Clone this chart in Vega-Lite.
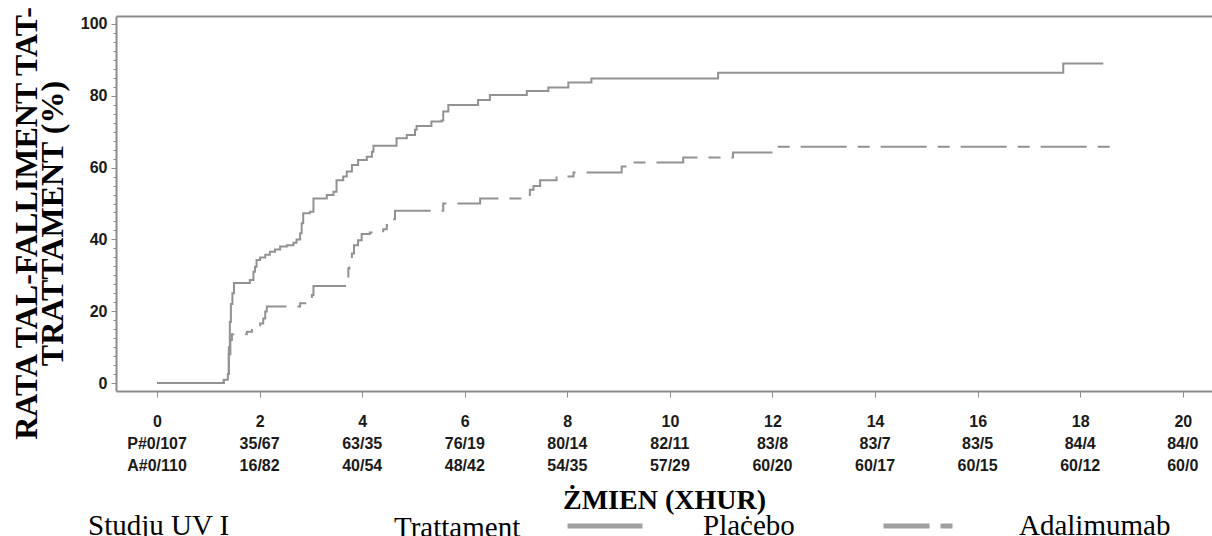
{
  "$schema": "https://vega.github.io/schema/vega-lite/v6.json",
  "width": 1096,
  "height": 375,
  "autosize": {"type": "none"},
  "padding": {"left": 116, "top": 16, "right": 0, "bottom": 145},
  "background": "white",
  "config": {"view": {"stroke": null}, "font": "Liberation Sans"},
  "title": {
    "text": "Studju UV I",
    "orient": "bottom",
    "anchor": "start",
    "frame": "group",
    "font": "Liberation Serif",
    "fontSize": 29,
    "fontWeight": "normal",
    "color": "#000000",
    "baseline": "alphabetic",
    "dx": -28,
    "dy": -7,
    "offset": -1
  },
  "datasets": {
    "curves": [
      {"t": 0, "v": 0, "grp": "Plaċebo"},
      {"t": 1.30, "v": 0.9, "grp": "Plaċebo"},
      {"t": 1.38, "v": 2.5, "grp": "Plaċebo"},
      {"t": 1.40, "v": 10, "grp": "Plaċebo"},
      {"t": 1.42, "v": 17, "grp": "Plaċebo"},
      {"t": 1.44, "v": 22, "grp": "Plaċebo"},
      {"t": 1.47, "v": 25, "grp": "Plaċebo"},
      {"t": 1.50, "v": 27.9, "grp": "Plaċebo"},
      {"t": 1.81, "v": 28.7, "grp": "Plaċebo"},
      {"t": 1.88, "v": 31.0, "grp": "Plaċebo"},
      {"t": 1.91, "v": 32.4, "grp": "Plaċebo"},
      {"t": 1.94, "v": 34.3, "grp": "Plaċebo"},
      {"t": 2.01, "v": 35.0, "grp": "Plaċebo"},
      {"t": 2.11, "v": 35.7, "grp": "Plaċebo"},
      {"t": 2.20, "v": 36.6, "grp": "Plaċebo"},
      {"t": 2.30, "v": 37.2, "grp": "Plaċebo"},
      {"t": 2.40, "v": 38.0, "grp": "Plaċebo"},
      {"t": 2.53, "v": 38.4, "grp": "Plaċebo"},
      {"t": 2.66, "v": 39.1, "grp": "Plaċebo"},
      {"t": 2.72, "v": 40.0, "grp": "Plaċebo"},
      {"t": 2.79, "v": 41.7, "grp": "Plaċebo"},
      {"t": 2.82, "v": 44.5, "grp": "Plaċebo"},
      {"t": 2.85, "v": 47.3, "grp": "Plaċebo"},
      {"t": 2.98, "v": 47.7, "grp": "Plaċebo"},
      {"t": 3.05, "v": 51.4, "grp": "Plaċebo"},
      {"t": 3.31, "v": 52.4, "grp": "Plaċebo"},
      {"t": 3.44, "v": 53.3, "grp": "Plaċebo"},
      {"t": 3.50, "v": 56.5, "grp": "Plaċebo"},
      {"t": 3.63, "v": 57.5, "grp": "Plaċebo"},
      {"t": 3.70, "v": 58.9, "grp": "Plaċebo"},
      {"t": 3.80, "v": 60.7, "grp": "Plaċebo"},
      {"t": 3.92, "v": 62.1, "grp": "Plaċebo"},
      {"t": 4.09, "v": 63.0, "grp": "Plaċebo"},
      {"t": 4.19, "v": 64.4, "grp": "Plaċebo"},
      {"t": 4.22, "v": 66.1, "grp": "Plaċebo"},
      {"t": 4.67, "v": 68.2, "grp": "Plaċebo"},
      {"t": 4.87, "v": 69.1, "grp": "Plaċebo"},
      {"t": 5.03, "v": 70.5, "grp": "Plaċebo"},
      {"t": 5.06, "v": 71.6, "grp": "Plaċebo"},
      {"t": 5.35, "v": 72.8, "grp": "Plaċebo"},
      {"t": 5.55, "v": 73.1, "grp": "Plaċebo"},
      {"t": 5.58, "v": 75.6, "grp": "Plaċebo"},
      {"t": 5.68, "v": 77.4, "grp": "Plaċebo"},
      {"t": 6.26, "v": 78.8, "grp": "Plaċebo"},
      {"t": 6.49, "v": 80.2, "grp": "Plaċebo"},
      {"t": 7.21, "v": 81.3, "grp": "Plaċebo"},
      {"t": 7.63, "v": 82.3, "grp": "Plaċebo"},
      {"t": 8.02, "v": 83.7, "grp": "Plaċebo"},
      {"t": 8.47, "v": 84.8, "grp": "Plaċebo"},
      {"t": 10.94, "v": 86.4, "grp": "Plaċebo"},
      {"t": 17.67, "v": 89.0, "grp": "Plaċebo"},
      {"t": 18.45, "v": 89.0, "grp": "Plaċebo"},
      {"t": 0, "v": 0, "grp": "Adalimumab"},
      {"t": 1.30, "v": 0.9, "grp": "Adalimumab"},
      {"t": 1.38, "v": 2.5, "grp": "Adalimumab"},
      {"t": 1.40, "v": 8.0, "grp": "Adalimumab"},
      {"t": 1.43, "v": 12.0, "grp": "Adalimumab"},
      {"t": 1.46, "v": 13.6, "grp": "Adalimumab"},
      {"t": 1.75, "v": 14.3, "grp": "Adalimumab"},
      {"t": 1.85, "v": 15.2, "grp": "Adalimumab"},
      {"t": 1.94, "v": 15.7, "grp": "Adalimumab"},
      {"t": 2.01, "v": 16.6, "grp": "Adalimumab"},
      {"t": 2.07, "v": 18.0, "grp": "Adalimumab"},
      {"t": 2.11, "v": 19.9, "grp": "Adalimumab"},
      {"t": 2.14, "v": 21.3, "grp": "Adalimumab"},
      {"t": 2.79, "v": 22.2, "grp": "Adalimumab"},
      {"t": 2.92, "v": 23.6, "grp": "Adalimumab"},
      {"t": 3.02, "v": 24.5, "grp": "Adalimumab"},
      {"t": 3.05, "v": 27.0, "grp": "Adalimumab"},
      {"t": 3.70, "v": 28.7, "grp": "Adalimumab"},
      {"t": 3.73, "v": 31.9, "grp": "Adalimumab"},
      {"t": 3.75, "v": 34.7, "grp": "Adalimumab"},
      {"t": 3.80, "v": 36.1, "grp": "Adalimumab"},
      {"t": 3.84, "v": 38.4, "grp": "Adalimumab"},
      {"t": 3.92, "v": 39.8, "grp": "Adalimumab"},
      {"t": 3.99, "v": 41.5, "grp": "Adalimumab"},
      {"t": 4.15, "v": 41.9, "grp": "Adalimumab"},
      {"t": 4.41, "v": 42.8, "grp": "Adalimumab"},
      {"t": 4.48, "v": 44.0, "grp": "Adalimumab"},
      {"t": 4.58, "v": 45.6, "grp": "Adalimumab"},
      {"t": 4.64, "v": 48.0, "grp": "Adalimumab"},
      {"t": 5.58, "v": 50.0, "grp": "Adalimumab"},
      {"t": 6.30, "v": 51.4, "grp": "Adalimumab"},
      {"t": 7.21, "v": 52.4, "grp": "Adalimumab"},
      {"t": 7.27, "v": 53.8, "grp": "Adalimumab"},
      {"t": 7.34, "v": 54.9, "grp": "Adalimumab"},
      {"t": 7.47, "v": 56.5, "grp": "Adalimumab"},
      {"t": 7.79, "v": 57.5, "grp": "Adalimumab"},
      {"t": 8.12, "v": 58.6, "grp": "Adalimumab"},
      {"t": 9.06, "v": 60.3, "grp": "Adalimumab"},
      {"t": 9.25, "v": 61.4, "grp": "Adalimumab"},
      {"t": 10.26, "v": 62.8, "grp": "Adalimumab"},
      {"t": 11.23, "v": 64.2, "grp": "Adalimumab"},
      {"t": 12.01, "v": 65.8, "grp": "Adalimumab"},
      {"t": 18.71, "v": 65.8, "grp": "Adalimumab"}
    ],
    "risk": [
      {"t": 0, "row": "P", "lbl": "P#0/107"},
      {"t": 2, "row": "P", "lbl": "35/67"},
      {"t": 4, "row": "P", "lbl": "63/35"},
      {"t": 6, "row": "P", "lbl": "76/19"},
      {"t": 8, "row": "P", "lbl": "80/14"},
      {"t": 10, "row": "P", "lbl": "82/11"},
      {"t": 12, "row": "P", "lbl": "83/8"},
      {"t": 14, "row": "P", "lbl": "83/7"},
      {"t": 16, "row": "P", "lbl": "83/5"},
      {"t": 18, "row": "P", "lbl": "84/4"},
      {"t": 20, "row": "P", "lbl": "84/0"},
      {"t": 0, "row": "A", "lbl": "A#0/110"},
      {"t": 2, "row": "A", "lbl": "16/82"},
      {"t": 4, "row": "A", "lbl": "40/54"},
      {"t": 6, "row": "A", "lbl": "48/42"},
      {"t": 8, "row": "A", "lbl": "54/35"},
      {"t": 10, "row": "A", "lbl": "57/29"},
      {"t": 12, "row": "A", "lbl": "60/20"},
      {"t": 14, "row": "A", "lbl": "60/17"},
      {"t": 16, "row": "A", "lbl": "60/15"},
      {"t": 18, "row": "A", "lbl": "60/12"},
      {"t": 20, "row": "A", "lbl": "60/0"}
    ]
  },
  "layer": [
    {
      "data": {"name": "curves"},
      "mark": {"type": "line", "interpolate": "step-after", "color": "#929292", "strokeWidth": 2, "clip": false},
      "encoding": {
        "x": {
          "field": "t", "type": "quantitative",
          "scale": {"domain": [-0.8, 20.57], "nice": false, "zero": false},
          "axis": {
            "orient": "bottom",
            "values": [0, 2, 4, 6, 8, 10, 12, 14, 16, 18, 20],
            "domainColor": "#8c8c8c", "domainWidth": 2,
            "tickColor": "#8c8c8c", "tickWidth": 1, "tickSize": 6,
            "labelFont": "Liberation Sans", "labelFontSize": 16, "labelFontWeight": "bold",
            "labelColor": "#1a1a1a", "labelBaseline": "middle", "labelPadding": 24,
            "labelFlush": false, "labelOverlap": false,
            "grid": false,
            "title": "ŻMIEN (XHUR)",
            "titleFont": "Liberation Serif", "titleFontSize": 28, "titleFontWeight": "bold",
            "titleColor": "#000000", "titleBaseline": "alphabetic", "titleY": 117, "titleX": 548
          }
        },
        "y": {
          "field": "v", "type": "quantitative",
          "scale": {"domain": [-2.2, 102.2], "nice": false, "zero": false},
          "axis": {
            "values": [0, 2.5, 5, 7.5, 10, 12.5, 15, 17.5, 20, 22.5, 25, 27.5, 30, 32.5, 35, 37.5, 40, 42.5, 45, 47.5, 50, 52.5, 55, 57.5, 60, 62.5, 65, 67.5, 70, 72.5, 75, 77.5, 80, 82.5, 85, 87.5, 90, 92.5, 95, 97.5, 100],
            "labelExpr": "datum.value % 20 === 0 ? datum.label : ''",
            "format": "d",
            "domainColor": "#8c8c8c", "domainWidth": 2,
            "tickColor": "#8c8c8c", "tickWidth": 1,
            "tickSize": {"condition": {"test": "datum.value % 20 === 0", "value": 5}, "value": 3},
            "labelFont": "Liberation Sans", "labelFontSize": 16, "labelFontWeight": "bold",
            "labelColor": "#1a1a1a", "labelPadding": 4, "labelFlush": false, "labelOverlap": false,
            "grid": false,
            "title": ["RATA TAL-FALLIMENT TAT-", "TRATTAMENT (%)"],
            "titleFont": "Liberation Serif", "titleFontSize": 32, "titleFontWeight": "bold",
            "titleColor": "#000000", "titleLineHeight": 26, "titleY": 207, "titlePadding": 11
          }
        },
        "strokeDash": {
          "field": "grp", "type": "nominal",
          "scale": {"domain": ["Plaċebo", "Adalimumab"], "range": [[1, 0], [46, 11, 12, 11]]},
          "legend": {
            "orient": "none", "direction": "horizontal",
            "legendX": 278, "legendY": 470,
            "title": "Trattament", "titleOrient": "left", "titleAnchor": "middle",
            "titleFont": "Liberation Serif", "titleFontSize": 29, "titleFontWeight": "normal",
            "titleColor": "#000000", "titlePadding": 44, "titleBaseline": "top",
            "labelFont": "Liberation Serif", "labelFontSize": 29, "labelColor": "#000000",
            "labelOffset": 58, "columnPadding": 78,
            "symbolType": "stroke", "symbolSize": 5625, "symbolStrokeWidth": 5,
            "symbolStrokeColor": "#a0a0a0"
          }
        }
      }
    },
    {
      "data": {"name": "risk"},
      "mark": {"type": "text", "font": "Liberation Sans", "fontSize": 16, "fontWeight": "bold", "color": "#1a1a1a", "align": "center", "baseline": "middle", "clip": false},
      "encoding": {
        "x": {
          "field": "t", "type": "quantitative",
          "axis": {"orient": "top", "labels": false, "ticks": false, "title": null, "grid": false, "domainColor": "#8c8c8c", "domainWidth": 2}
        },
        "y": {
          "field": "row", "type": "nominal",
          "scale": {"type": "point", "domain": ["P", "A"], "range": [428, 450], "padding": 0},
          "axis": null
        },
        "text": {"field": "lbl"}
      }
    }
  ],
  "resolve": {"scale": {"y": "independent"}, "axis": {"x": "independent", "y": "independent"}}
}
